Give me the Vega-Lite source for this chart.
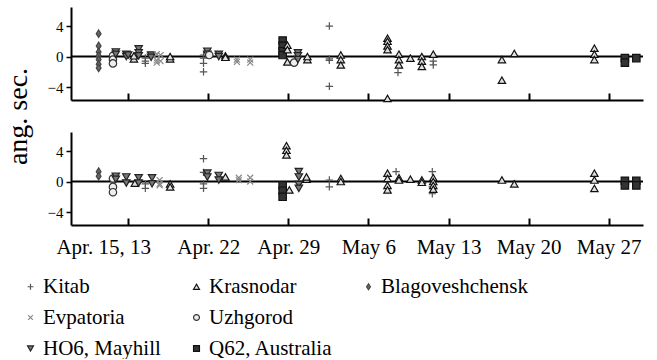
{
  "$schema": "https://vega.github.io/schema/vega-lite/v6.json",
  "padding": {"left": 4, "top": 7, "right": 0, "bottom": 0},
  "bounds": "flush",
  "spacing": 32,
  "config": {
    "font": "Liberation Serif",
    "view": {"stroke": null},
    "style": {"guide-label": {"font": "Liberation Serif", "fill": "#000"}, "guide-title": {"font": "Liberation Serif", "fill": "#000"}},
    "axis": {"grid": false, "domainColor": "#000", "domainWidth": 2, "tickColor": "#000", "labelColor": "#000", "titleColor": "#000", "labelFont": "Liberation Serif", "titleFont": "Liberation Serif", "titleFontWeight": "normal"},
    "legend": {"labelFont": "Liberation Serif", "labelFontSize": 21, "labelColor": "#000", "symbolStrokeWidth": 1.2}
  },
  "data": {"values": [
    {"p":"A","s":"Blagoveshchensk","d":"2013-04-12T10:00","v":3.0},
    {"p":"A","s":"Blagoveshchensk","d":"2013-04-12T10:00","v":1.4},
    {"p":"A","s":"Blagoveshchensk","d":"2013-04-12T10:00","v":0.6},
    {"p":"A","s":"Blagoveshchensk","d":"2013-04-12T10:00","v":0.1},
    {"p":"A","s":"Blagoveshchensk","d":"2013-04-12T10:00","v":-0.4},
    {"p":"A","s":"Blagoveshchensk","d":"2013-04-12T10:00","v":-1.0},
    {"p":"A","s":"Blagoveshchensk","d":"2013-04-12T10:00","v":-1.5},
    {"p":"A","s":"Uzhgorod","d":"2013-04-13T16:00","v":0.1},
    {"p":"A","s":"Uzhgorod","d":"2013-04-13T16:00","v":-0.4},
    {"p":"A","s":"Uzhgorod","d":"2013-04-13T16:00","v":-0.9},
    {"p":"A","s":"HO6, Mayhill","d":"2013-04-13T22:00","v":0.6},
    {"p":"A","s":"HO6, Mayhill","d":"2013-04-13T22:00","v":0.3},
    {"p":"A","s":"HO6, Mayhill","d":"2013-04-14T20:00","v":0.3},
    {"p":"A","s":"HO6, Mayhill","d":"2013-04-14T20:00","v":0.0},
    {"p":"A","s":"HO6, Mayhill","d":"2013-04-15T00:00","v":0.2},
    {"p":"A","s":"Krasnodar","d":"2013-04-15T12:00","v":-0.3},
    {"p":"A","s":"Krasnodar","d":"2013-04-15T12:00","v":0.1},
    {"p":"A","s":"HO6, Mayhill","d":"2013-04-15T22:00","v":1.0},
    {"p":"A","s":"HO6, Mayhill","d":"2013-04-15T22:00","v":0.5},
    {"p":"A","s":"HO6, Mayhill","d":"2013-04-15T22:00","v":0.1},
    {"p":"A","s":"Kitab","d":"2013-04-16T12:00","v":-0.2},
    {"p":"A","s":"Kitab","d":"2013-04-16T12:00","v":-0.6},
    {"p":"A","s":"Kitab","d":"2013-04-16T12:00","v":-0.9},
    {"p":"A","s":"HO6, Mayhill","d":"2013-04-17T00:00","v":0.2},
    {"p":"A","s":"HO6, Mayhill","d":"2013-04-17T00:00","v":-0.1},
    {"p":"A","s":"Evpatoria","d":"2013-04-17T12:00","v":0.3},
    {"p":"A","s":"Evpatoria","d":"2013-04-17T12:00","v":-0.5},
    {"p":"A","s":"Evpatoria","d":"2013-04-17T12:00","v":-0.8},
    {"p":"A","s":"Evpatoria","d":"2013-04-17T20:00","v":0.2},
    {"p":"A","s":"Evpatoria","d":"2013-04-17T20:00","v":-0.6},
    {"p":"A","s":"Krasnodar","d":"2013-04-18T16:00","v":-0.3},
    {"p":"A","s":"Krasnodar","d":"2013-04-18T16:00","v":0.0},
    {"p":"A","s":"Kitab","d":"2013-04-21T14:00","v":0.2},
    {"p":"A","s":"Kitab","d":"2013-04-21T14:00","v":-0.2},
    {"p":"A","s":"Kitab","d":"2013-04-21T14:00","v":-0.9},
    {"p":"A","s":"Kitab","d":"2013-04-21T14:00","v":-2.0},
    {"p":"A","s":"HO6, Mayhill","d":"2013-04-21T22:00","v":0.7},
    {"p":"A","s":"HO6, Mayhill","d":"2013-04-21T22:00","v":0.3},
    {"p":"A","s":"Uzhgorod","d":"2013-04-22T02:00","v":0.2},
    {"p":"A","s":"HO6, Mayhill","d":"2013-04-22T22:00","v":0.3},
    {"p":"A","s":"HO6, Mayhill","d":"2013-04-22T22:00","v":0.0},
    {"p":"A","s":"Krasnodar","d":"2013-04-23T12:00","v":0.1},
    {"p":"A","s":"Krasnodar","d":"2013-04-23T12:00","v":-0.1},
    {"p":"A","s":"Evpatoria","d":"2013-04-24T12:00","v":-0.4},
    {"p":"A","s":"Evpatoria","d":"2013-04-24T12:00","v":-0.7},
    {"p":"A","s":"Evpatoria","d":"2013-04-25T16:00","v":-0.4},
    {"p":"A","s":"Evpatoria","d":"2013-04-25T16:00","v":-0.8},
    {"p":"A","s":"Q62, Australia","d":"2013-04-28T12:00","v":2.1},
    {"p":"A","s":"Q62, Australia","d":"2013-04-28T12:00","v":1.4},
    {"p":"A","s":"Q62, Australia","d":"2013-04-28T12:00","v":0.7},
    {"p":"A","s":"Q62, Australia","d":"2013-04-28T12:00","v":0.2},
    {"p":"A","s":"Krasnodar","d":"2013-04-28T22:00","v":1.5},
    {"p":"A","s":"Krasnodar","d":"2013-04-28T22:00","v":0.9},
    {"p":"A","s":"Krasnodar","d":"2013-04-28T22:00","v":-0.7},
    {"p":"A","s":"Uzhgorod","d":"2013-04-29T12:00","v":-0.8},
    {"p":"A","s":"HO6, Mayhill","d":"2013-04-29T20:00","v":0.5},
    {"p":"A","s":"HO6, Mayhill","d":"2013-04-29T20:00","v":0.1},
    {"p":"A","s":"HO6, Mayhill","d":"2013-04-29T20:00","v":-0.4},
    {"p":"A","s":"Krasnodar","d":"2013-04-30T16:00","v":-0.4},
    {"p":"A","s":"Krasnodar","d":"2013-04-30T16:00","v":0.0},
    {"p":"A","s":"Kitab","d":"2013-05-02T14:00","v":4.0},
    {"p":"A","s":"Kitab","d":"2013-05-02T14:00","v":-0.3},
    {"p":"A","s":"Kitab","d":"2013-05-02T14:00","v":-0.5},
    {"p":"A","s":"Kitab","d":"2013-05-02T14:00","v":-3.9},
    {"p":"A","s":"Krasnodar","d":"2013-05-03T14:00","v":0.2},
    {"p":"A","s":"Krasnodar","d":"2013-05-03T14:00","v":-0.4},
    {"p":"A","s":"Krasnodar","d":"2013-05-03T14:00","v":-1.1},
    {"p":"A","s":"Krasnodar","d":"2013-05-07T16:00","v":2.4},
    {"p":"A","s":"Krasnodar","d":"2013-05-07T16:00","v":2.0},
    {"p":"A","s":"Krasnodar","d":"2013-05-07T16:00","v":1.4},
    {"p":"A","s":"Krasnodar","d":"2013-05-07T16:00","v":0.9},
    {"p":"A","s":"Krasnodar","d":"2013-05-07T16:00","v":-5.5},
    {"p":"A","s":"Krasnodar","d":"2013-05-08T16:00","v":0.3},
    {"p":"A","s":"Krasnodar","d":"2013-05-08T16:00","v":-0.4},
    {"p":"A","s":"Krasnodar","d":"2013-05-08T16:00","v":-1.1},
    {"p":"A","s":"Kitab","d":"2013-05-08T14:00","v":-2.1},
    {"p":"A","s":"Krasnodar","d":"2013-05-09T16:00","v":-0.2},
    {"p":"A","s":"Krasnodar","d":"2013-05-10T16:00","v":0.0},
    {"p":"A","s":"Krasnodar","d":"2013-05-10T16:00","v":-0.6},
    {"p":"A","s":"Krasnodar","d":"2013-05-10T16:00","v":-1.3},
    {"p":"A","s":"Krasnodar","d":"2013-05-11T16:00","v":0.3},
    {"p":"A","s":"Kitab","d":"2013-05-11T16:00","v":-0.6},
    {"p":"A","s":"Kitab","d":"2013-05-11T16:00","v":-1.1},
    {"p":"A","s":"Krasnodar","d":"2013-05-17T16:00","v":-0.4},
    {"p":"A","s":"Krasnodar","d":"2013-05-17T16:00","v":-3.1},
    {"p":"A","s":"Krasnodar","d":"2013-05-18T18:00","v":0.4},
    {"p":"A","s":"Krasnodar","d":"2013-05-25T18:00","v":1.1},
    {"p":"A","s":"Krasnodar","d":"2013-05-25T18:00","v":0.3},
    {"p":"A","s":"Krasnodar","d":"2013-05-25T18:00","v":-0.4},
    {"p":"A","s":"Q62, Australia","d":"2013-05-28T10:00","v":-0.2},
    {"p":"A","s":"Q62, Australia","d":"2013-05-28T10:00","v":-0.8},
    {"p":"A","s":"Q62, Australia","d":"2013-05-29T10:00","v":-0.2},
    {"p":"B","s":"Blagoveshchensk","d":"2013-04-12T10:00","v":1.3},
    {"p":"B","s":"Blagoveshchensk","d":"2013-04-12T10:00","v":0.7},
    {"p":"B","s":"Uzhgorod","d":"2013-04-13T16:00","v":0.4},
    {"p":"B","s":"Uzhgorod","d":"2013-04-13T16:00","v":-0.7},
    {"p":"B","s":"Uzhgorod","d":"2013-04-13T16:00","v":-1.4},
    {"p":"B","s":"HO6, Mayhill","d":"2013-04-13T22:00","v":0.7},
    {"p":"B","s":"HO6, Mayhill","d":"2013-04-13T22:00","v":0.3},
    {"p":"B","s":"HO6, Mayhill","d":"2013-04-14T20:00","v":0.6},
    {"p":"B","s":"HO6, Mayhill","d":"2013-04-14T20:00","v":-0.2},
    {"p":"B","s":"Krasnodar","d":"2013-04-15T14:00","v":-0.2},
    {"p":"B","s":"HO6, Mayhill","d":"2013-04-15T22:00","v":0.5},
    {"p":"B","s":"HO6, Mayhill","d":"2013-04-15T22:00","v":-0.2},
    {"p":"B","s":"Kitab","d":"2013-04-16T12:00","v":-0.3},
    {"p":"B","s":"Kitab","d":"2013-04-16T12:00","v":-0.9},
    {"p":"B","s":"HO6, Mayhill","d":"2013-04-17T02:00","v":0.5},
    {"p":"B","s":"HO6, Mayhill","d":"2013-04-17T02:00","v":-0.3},
    {"p":"B","s":"Evpatoria","d":"2013-04-17T18:00","v":0.2},
    {"p":"B","s":"Evpatoria","d":"2013-04-17T18:00","v":-0.3},
    {"p":"B","s":"Evpatoria","d":"2013-04-17T18:00","v":-0.5},
    {"p":"B","s":"Krasnodar","d":"2013-04-18T16:00","v":-0.3},
    {"p":"B","s":"Krasnodar","d":"2013-04-18T16:00","v":-0.7},
    {"p":"B","s":"Kitab","d":"2013-04-21T14:00","v":3.0},
    {"p":"B","s":"Kitab","d":"2013-04-21T14:00","v":1.2},
    {"p":"B","s":"Kitab","d":"2013-04-21T14:00","v":-0.3},
    {"p":"B","s":"Kitab","d":"2013-04-21T14:00","v":-0.9},
    {"p":"B","s":"HO6, Mayhill","d":"2013-04-21T22:00","v":1.1},
    {"p":"B","s":"HO6, Mayhill","d":"2013-04-21T22:00","v":0.6},
    {"p":"B","s":"HO6, Mayhill","d":"2013-04-22T22:00","v":0.8},
    {"p":"B","s":"HO6, Mayhill","d":"2013-04-22T22:00","v":0.2},
    {"p":"B","s":"Krasnodar","d":"2013-04-23T12:00","v":0.6},
    {"p":"B","s":"Evpatoria","d":"2013-04-24T16:00","v":0.5},
    {"p":"B","s":"Evpatoria","d":"2013-04-24T16:00","v":0.2},
    {"p":"B","s":"Evpatoria","d":"2013-04-25T16:00","v":0.5},
    {"p":"B","s":"Evpatoria","d":"2013-04-25T16:00","v":0.0},
    {"p":"B","s":"Krasnodar","d":"2013-04-28T20:00","v":4.7},
    {"p":"B","s":"Krasnodar","d":"2013-04-28T20:00","v":4.1},
    {"p":"B","s":"Krasnodar","d":"2013-04-28T20:00","v":3.5},
    {"p":"B","s":"Q62, Australia","d":"2013-04-28T12:00","v":-0.5},
    {"p":"B","s":"Q62, Australia","d":"2013-04-28T12:00","v":-1.2},
    {"p":"B","s":"Q62, Australia","d":"2013-04-28T12:00","v":-2.0},
    {"p":"B","s":"Krasnodar","d":"2013-04-29T02:00","v":-1.1},
    {"p":"B","s":"HO6, Mayhill","d":"2013-04-29T22:00","v":1.3},
    {"p":"B","s":"HO6, Mayhill","d":"2013-04-29T22:00","v":0.6},
    {"p":"B","s":"HO6, Mayhill","d":"2013-04-29T22:00","v":-0.4},
    {"p":"B","s":"HO6, Mayhill","d":"2013-04-29T22:00","v":-0.9},
    {"p":"B","s":"Krasnodar","d":"2013-04-30T14:00","v":0.3},
    {"p":"B","s":"Krasnodar","d":"2013-04-30T14:00","v":0.6},
    {"p":"B","s":"Kitab","d":"2013-05-02T14:00","v":0.2},
    {"p":"B","s":"Kitab","d":"2013-05-02T14:00","v":-0.7},
    {"p":"B","s":"Krasnodar","d":"2013-05-03T14:00","v":0.4},
    {"p":"B","s":"Krasnodar","d":"2013-05-03T14:00","v":0.0},
    {"p":"B","s":"Krasnodar","d":"2013-05-07T16:00","v":1.1},
    {"p":"B","s":"Krasnodar","d":"2013-05-07T16:00","v":0.4},
    {"p":"B","s":"Krasnodar","d":"2013-05-07T16:00","v":-0.5},
    {"p":"B","s":"Krasnodar","d":"2013-05-07T16:00","v":-1.1},
    {"p":"B","s":"Kitab","d":"2013-05-08T10:00","v":1.3},
    {"p":"B","s":"Krasnodar","d":"2013-05-08T16:00","v":0.5},
    {"p":"B","s":"Krasnodar","d":"2013-05-08T16:00","v":0.2},
    {"p":"B","s":"Krasnodar","d":"2013-05-09T16:00","v":0.3},
    {"p":"B","s":"Krasnodar","d":"2013-05-10T16:00","v":0.2},
    {"p":"B","s":"Krasnodar","d":"2013-05-10T16:00","v":-0.1},
    {"p":"B","s":"Kitab","d":"2013-05-11T14:00","v":1.3},
    {"p":"B","s":"Kitab","d":"2013-05-11T14:00","v":-0.7},
    {"p":"B","s":"Kitab","d":"2013-05-11T14:00","v":-1.6},
    {"p":"B","s":"Krasnodar","d":"2013-05-11T16:00","v":0.5},
    {"p":"B","s":"Krasnodar","d":"2013-05-11T16:00","v":0.0},
    {"p":"B","s":"Krasnodar","d":"2013-05-11T16:00","v":-0.5},
    {"p":"B","s":"Krasnodar","d":"2013-05-11T16:00","v":-1.0},
    {"p":"B","s":"Krasnodar","d":"2013-05-17T16:00","v":0.2},
    {"p":"B","s":"Krasnodar","d":"2013-05-18T18:00","v":-0.3},
    {"p":"B","s":"Krasnodar","d":"2013-05-25T18:00","v":1.1},
    {"p":"B","s":"Krasnodar","d":"2013-05-25T18:00","v":0.2},
    {"p":"B","s":"Krasnodar","d":"2013-05-25T18:00","v":-0.9},
    {"p":"B","s":"Q62, Australia","d":"2013-05-28T10:00","v":0.1},
    {"p":"B","s":"Q62, Australia","d":"2013-05-28T10:00","v":-0.5},
    {"p":"B","s":"Q62, Australia","d":"2013-05-29T10:00","v":0.1},
    {"p":"B","s":"Q62, Australia","d":"2013-05-29T10:00","v":-0.5}
  ]},
  "vconcat": [
    {
      "width": 572, "height": 93,
      "layer": [
        {
          "data": {"values": [{"z": 0}]},
          "mark": {"type": "rule", "color": "#000", "strokeWidth": 2},
          "encoding": {"y": {"field": "z", "type": "quantitative", "scale": {"domain": [-5.7, 6.5], "nice": false, "zero": false}}}
        },
        {
          "transform": [{"filter": "datum.p == 'A'"}],
          "mark": {"type": "point", "filled": true, "size": 55, "strokeWidth": 1.2, "opacity": 1, "clip": false},
          "encoding": {
            "x": {"field": "d", "type": "temporal",
              "scale": {"domain": [{"year": 2013, "month": 4, "date": 10}, {"year": 2013, "month": 5, "date": 30}]},
              "axis": {"title": null, "labels": false, "values": [{"year": 2013, "month": 4, "date": 15}, {"year": 2013, "month": 4, "date": 22}, {"year": 2013, "month": 4, "date": 29}, {"year": 2013, "month": 5, "date": 6}, {"year": 2013, "month": 5, "date": 13}, {"year": 2013, "month": 5, "date": 20}, {"year": 2013, "month": 5, "date": 27}], "tickSize": -7, "tickWidth": 2}},
            "y": {"field": "v", "type": "quantitative", "scale": {"domain": [-5.7, 6.5], "nice": false, "zero": false},
              "axis": {"title": "ang. sec.", "titleFont": "Liberation Serif", "titleFontSize": 28, "titleX": -39, "titleY": 109, "values": [-4, -2, 0, 2, 4], "labelFont": "Liberation Serif", "labelFontSize": 15, "labelPadding": 3, "tickSize": 5, "tickWidth": 1.5}},
            "shape": {"field": "s", "type": "nominal",
              "legend": {"title": null, "labelFont": "Liberation Serif", "labelFontSize": 21, "orient": "none", "legendX": -51, "legendY": 269, "columns": 3, "direction": "horizontal", "rowPadding": 9, "columnPadding": 25, "labelOffset": 2, "symbolSize": 35},
              "scale": {"domain": ["Kitab", "Krasnodar", "Blagoveshchensk", "Evpatoria", "Uzhgorod", " ", "HO6, Mayhill", "Q62, Australia"],
                "range": ["M-1,0H1M0,-1V1", "triangle-up", "M0,-1L0.65,0L0,1L-0.65,0Z", "M-0.8,-0.8L0.8,0.8M0.8,-0.8L-0.8,0.8", "circle", "M0,0", "triangle-down", "square"]}},
            "fill": {"field": "s", "type": "nominal", "title": null,
              "scale": {"domain": ["Kitab", "Krasnodar", "Blagoveshchensk", "Evpatoria", "Uzhgorod", " ", "HO6, Mayhill", "Q62, Australia"],
                "range": ["transparent", "#e0e0e0", "#666666", "transparent", "#eeeeee", "transparent", "#777777", "#333333"]}},
            "stroke": {"field": "s", "type": "nominal", "title": null,
              "scale": {"domain": ["Kitab", "Krasnodar", "Blagoveshchensk", "Evpatoria", "Uzhgorod", " ", "HO6, Mayhill", "Q62, Australia"],
                "range": ["#555555", "#111111", "#444444", "#888888", "#333333", "transparent", "#222222", "#111111"]}}
          }
        }
      ]
    },
    {
      "width": 572, "height": 93,
      "layer": [
        {
          "data": {"values": [{"z": 0}]},
          "mark": {"type": "rule", "color": "#000", "strokeWidth": 2},
          "encoding": {"y": {"field": "z", "type": "quantitative", "scale": {"domain": [-5.7, 6.5], "nice": false, "zero": false}}}
        },
        {
          "transform": [{"filter": "datum.p == 'B'"}],
          "mark": {"type": "point", "filled": true, "size": 55, "strokeWidth": 1.2, "opacity": 1, "clip": false},
          "encoding": {
            "x": {"field": "d", "type": "temporal",
              "scale": {"domain": [{"year": 2013, "month": 4, "date": 10}, {"year": 2013, "month": 5, "date": 30}]},
              "axis": {"title": null, "values": [{"year": 2013, "month": 4, "date": 15}, {"year": 2013, "month": 4, "date": 22}, {"year": 2013, "month": 4, "date": 29}, {"year": 2013, "month": 5, "date": 6}, {"year": 2013, "month": 5, "date": 13}, {"year": 2013, "month": 5, "date": 20}, {"year": 2013, "month": 5, "date": 27}], "tickSize": -7, "tickWidth": 2, "labelFont": "Liberation Serif", "labelFontSize": 21, "labelPadding": 18, "labelFlush": false, "labelOverlap": false,
                "labelOffset": {"condition": {"test": "month(datum.value) == 3 && date(datum.value) == 15", "value": -25}, "value": 0},
                "labelExpr": "month(datum.value) == 3 ? (date(datum.value) == 15 ? 'Apr. 15, 13' : 'Apr. ' + date(datum.value)) : 'May ' + date(datum.value)"}},
            "y": {"field": "v", "type": "quantitative", "scale": {"domain": [-5.7, 6.5], "nice": false, "zero": false},
              "axis": {"title": null, "values": [-4, -2, 0, 2, 4], "labelFont": "Liberation Serif", "labelFontSize": 15, "labelPadding": 3, "tickSize": 5, "tickWidth": 1.5}},
            "shape": {"field": "s", "type": "nominal", "title": null},
            "fill": {"field": "s", "type": "nominal", "title": null},
            "stroke": {"field": "s", "type": "nominal", "title": null}
          }
        }
      ]
    }
  ]
}
